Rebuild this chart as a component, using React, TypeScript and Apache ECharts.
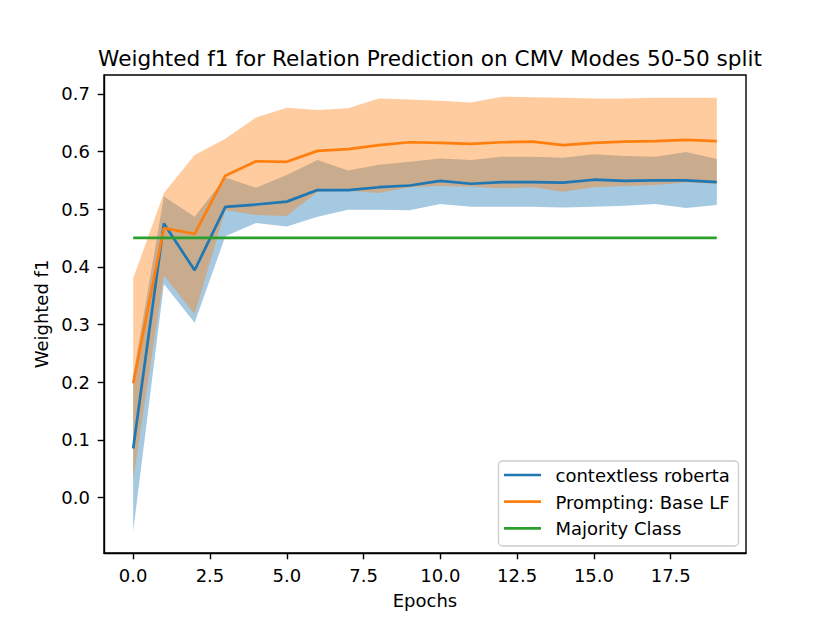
import React, { useEffect, useRef } from "react";
import * as echarts from "echarts";

const EPOCHS = [0, 1, 2, 3, 4, 5, 6, 7, 8, 9, 10, 11, 12, 13, 14, 15, 16, 17, 18, 19];

const ROBERTA_MEAN = [0.085, 0.475, 0.394, 0.504, 0.508, 0.513, 0.533, 0.533, 0.538, 0.541, 0.549, 0.544, 0.547, 0.547, 0.546, 0.551, 0.549, 0.55, 0.55, 0.547];
const ROBERTA_UPPER = [0.21, 0.522, 0.487, 0.555, 0.537, 0.559, 0.585, 0.567, 0.577, 0.582, 0.588, 0.585, 0.591, 0.591, 0.589, 0.595, 0.592, 0.591, 0.599, 0.587];
const ROBERTA_LOWER = [-0.059, 0.37, 0.303, 0.453, 0.476, 0.47, 0.487, 0.499, 0.499, 0.498, 0.509, 0.504, 0.504, 0.504, 0.503, 0.504, 0.506, 0.509, 0.502, 0.507];

const PROMPT_MEAN = [0.198, 0.467, 0.457, 0.558, 0.583, 0.582, 0.601, 0.604, 0.611, 0.616, 0.615, 0.613, 0.616, 0.617, 0.611, 0.615, 0.617, 0.618, 0.62, 0.618];
const PROMPT_UPPER = [0.38, 0.528, 0.594, 0.622, 0.659, 0.676, 0.672, 0.675, 0.692, 0.69, 0.688, 0.685, 0.695, 0.694, 0.693, 0.692, 0.692, 0.693, 0.693, 0.693];
const PROMPT_LOWER = [0.031, 0.385, 0.318, 0.498, 0.49, 0.488, 0.53, 0.532, 0.528, 0.538, 0.54, 0.539, 0.536, 0.538, 0.53, 0.538, 0.54, 0.542, 0.546, 0.544];

const MAJORITY = [0.45, 0.45, 0.45, 0.45, 0.45, 0.45, 0.45, 0.45, 0.45, 0.45, 0.45, 0.45, 0.45, 0.45, 0.45, 0.45, 0.45, 0.45, 0.45, 0.45];

const X_TICKS = [0, 2.5, 5, 7.5, 10, 12.5, 15, 17.5];
const Y_TICKS = [0, 0.1, 0.2, 0.3, 0.4, 0.5, 0.6, 0.7];

const SERIES_NAMES = ["contextless roberta", "Prompting: Base LF", "Majority Class"];
const COLORS = ["#1f77b4", "#ff7f0e", "#2ca02c"];
const BAND_COLORS = ["rgba(31,119,180,0.4)", "rgba(255,127,14,0.4)"];

const TITLE = "Weighted f1 for Relation Prediction on CMV Modes 50-50 split";
const X_NAME = "Epochs";
const Y_NAME = "Weighted f1";

const FONT = "DejaVu Sans";
const FS = 18;
const TITLE_FS = 21.6;

function pairs(ys: number[]) {
  return EPOCHS.map((e, i) => [e, ys[i]]);
}

export default function App() {
  const ref = useRef<HTMLDivElement>(null);
  useEffect(() => {
    if (!ref.current) return;
    const chart = echarts.init(ref.current, undefined, { renderer: "svg" });

    const bandSeries = (lo: number[], up: number[], color: string) => ({
      type: "custom",
      silent: true,
      clip: true,
      z: 1,
      data: [[EPOCHS[0], lo[0]]],
      renderItem: (_params: any, api: any) => {
        const top = EPOCHS.map((e, i) => api.coord([e, up[i]]));
        const bottom = EPOCHS.map((e, i) => api.coord([e, lo[i]])).reverse();
        return {
          type: "polygon",
          shape: { points: top.concat(bottom) },
          style: { fill: color, stroke: "none" },
        };
      },
    });

    const lineSeries = (name: string, ys: number[], color: string) => ({
      type: "line",
      name,
      data: pairs(ys),
      symbol: "none",
      lineStyle: { color, width: 2.7 },
      itemStyle: { color },
      z: 2,
    });

    const legend: any[] = [
      {
        type: "rect",
        shape: { x: 498.5, y: 461, width: 240, height: 85, r: 4 },
        style: { fill: "rgba(255,255,255,0.8)", stroke: "#cccccc", lineWidth: 1.3 },
        z: 100,
      },
    ];
    SERIES_NAMES.forEach((n, i) => {
      const cy = 475 + 26.7 * i;
      legend.push({
        type: "line",
        shape: { x1: 504, y1: cy, x2: 541, y2: cy },
        style: { stroke: COLORS[i], lineWidth: 2.7 },
        z: 101,
      });
      legend.push({
        type: "text",
        x: 555.5,
        y: cy + 0.5,
        style: {
          text: n,
          fontFamily: FONT,
          fontSize: FS,
          fill: "#000",
          verticalAlign: "middle",
          align: "left",
        },
        z: 101,
      });
    });

    chart.setOption({
      animation: false,
      title: {
        text: TITLE,
        left: 425,
        top: 42,
        textAlign: "center",
        textStyle: { fontFamily: FONT, fontSize: TITLE_FS, fontWeight: "normal", color: "#000" },
      },
      grid: {
        left: 104,
        top: 75,
        right: 84,
        bottom: 70,
        show: true,
        borderColor: "#000",
        borderWidth: 1.4,
        backgroundColor: "transparent",
        containLabel: false,
      },
      xAxis: {
        type: "value",
        min: -0.95,
        max: 19.95,
        name: X_NAME,
        nameLocation: "middle",
        nameGap: 38,
        nameTextStyle: { fontFamily: FONT, fontSize: FS, color: "#000" },
        axisLine: { show: true, onZero: false, lineStyle: { color: "#000", width: 1.4 } },
        axisTick: { show: true, length: 6.3, customValues: X_TICKS, lineStyle: { color: "#000", width: 1.4 } },
        axisLabel: {
          customValues: X_TICKS,
          margin: 13.3,
          fontFamily: FONT,
          fontSize: FS,
          color: "#000",
          formatter: (v: number) => v.toFixed(1),
        },
        splitLine: { show: false },
      },
      yAxis: {
        type: "value",
        min: -0.0963,
        max: 0.7326,
        name: Y_NAME,
        nameLocation: "middle",
        nameGap: 50,
        nameRotate: 90,
        nameTextStyle: { fontFamily: FONT, fontSize: FS, color: "#000" },
        axisLine: { show: true, onZero: false, lineStyle: { color: "#000", width: 1.4 } },
        axisTick: { show: true, length: 6.3, customValues: Y_TICKS, lineStyle: { color: "#000", width: 1.4 } },
        axisLabel: {
          customValues: Y_TICKS,
          margin: 14,
          fontFamily: FONT,
          fontSize: FS,
          color: "#000",
          formatter: (v: number) => v.toFixed(1),
        },
        splitLine: { show: false },
      },
      series: [
        bandSeries(ROBERTA_LOWER, ROBERTA_UPPER, BAND_COLORS[0]),
        bandSeries(PROMPT_LOWER, PROMPT_UPPER, BAND_COLORS[1]),
        lineSeries(SERIES_NAMES[0], ROBERTA_MEAN, COLORS[0]),
        lineSeries(SERIES_NAMES[1], PROMPT_MEAN, COLORS[1]),
        lineSeries(SERIES_NAMES[2], MAJORITY, COLORS[2]),
      ],
      graphic: legend,
    });

    return () => chart.dispose();
  }, []);

  return (
    <div
      ref={ref}
      style={{ position: "fixed", left: 0, top: 0, width: 830, height: 623, background: "#fff" }}
    />
  );
}
